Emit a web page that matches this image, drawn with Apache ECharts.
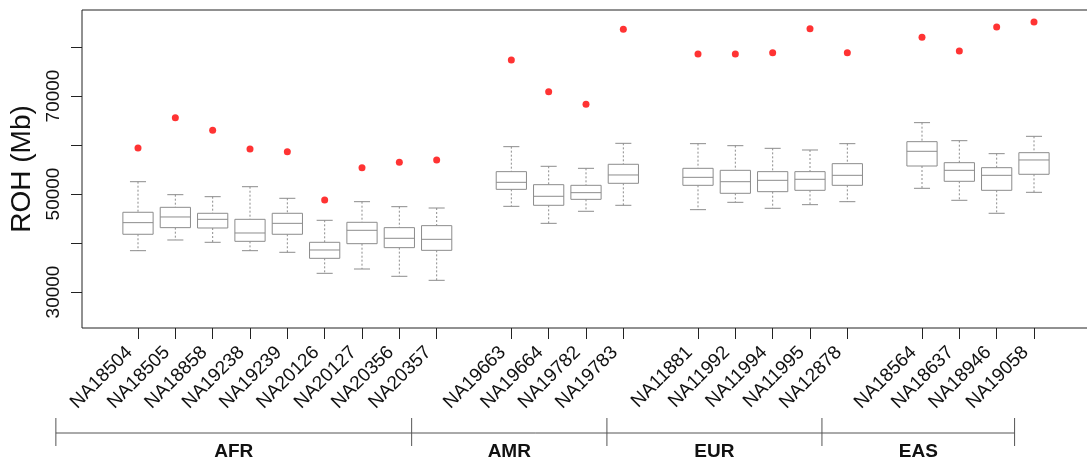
<!DOCTYPE html>
<html>
<head>
<meta charset="utf-8">
<script src="https://cdn.jsdelivr.net/npm/echarts@6/dist/echarts.min.js"></script>
<style>
  html, body { margin: 0; padding: 0; background: #fff; }
  #chart { width: 1087px; height: 457px; }
</style>
</head>
<body>
<div id="chart"></div>
<script>
// 人群分组和样本
var groups = ['AFR', 'AMR', 'EUR', 'EAS'];
var groupSamples = [
  ['NA18504', 'NA18505', 'NA18858', 'NA19238', 'NA19239', 'NA20126', 'NA20127', 'NA20356', 'NA20357'],
  ['NA19663', 'NA19664', 'NA19782', 'NA19783'],
  ['NA11881', 'NA11992', 'NA11994', 'NA11995', 'NA12878'],
  ['NA18564', 'NA18637', 'NA18946', 'NA19058']
];
// 箱线图五个统计量（按样本顺序）
var whiskerLow  = [38430, 40610, 40140, 38430, 38100, 33810, 34690, 33200, 32380,
                   47480, 44010, 46470, 47690,
                   46800, 48300, 47080, 47820, 48430,
                   51160, 48710, 46060, 50340];
var q1          = [41780, 43130, 43060, 40340, 41780, 36870, 39860, 39050, 38500,
                   50950, 47690, 48910, 52180,
                   51770, 50140, 50470, 50750, 51770,
                   55710, 52590, 50750, 54020];
var median      = [44150, 45310, 44830, 42040, 44010, 38570, 42590, 40960, 40750,
                   52380, 49530, 50270, 53880,
                   53400, 52510, 52790, 53000, 53810,
                   58710, 54830, 53810, 56940];
var q3          = [46270, 47280, 46060, 44830, 46060, 40140, 44220, 43130, 43540,
                   54560, 51900, 51770, 56060,
                   55240, 54830, 54560, 54560, 56190,
                   60680, 56390, 55370, 58430];
var whiskerHigh = [52510, 49860, 49450, 51490, 49120, 44630, 48430, 47410, 47140,
                   59660, 55650, 55240, 60340,
                   60270, 59860, 59320, 58980, 60270,
                   64560, 60880, 58230, 61770];
// 红点：实际样本的ROH
var observed    = [59390, 65580, 62990, 59180, 58640, 48780, 55370, 56470, 56940,
                   77350, 70880, 68300, 83610,
                   78570, 78570, 78840, 83740, 78840,
                   81970, 79180, 84080, 85100];
var yTicks = [30000, 40000, 50000, 60000, 70000, 80000];
var yLabels = [30000, 50000, 70000];
// 分组括号的边界（以样本位置为单位）
var bracketEdges = [-1.2, 8.33, 13.56, 19.32, 24.48];

var slots = [''];
var boxData = [];
var dotData = [];
var k = 0;
groupSamples.forEach(function (names) {
  names.forEach(function (n) {
    slots.push(n);
    var s = slots.length - 1;
    boxData.push([s, whiskerLow[k], q1[k], median[k], q3[k], whiskerHigh[k]]);
    dotData.push([s, observed[k]]);
    k++;
  });
  slots.push('');
});

var boxColor = '#8c8c8c';
var font = 'Liberation Sans, Arial, sans-serif';

function renderBox(params, api) {
  var x = api.value(0);
  var pLow = api.coord([x, api.value(1)]);
  var pQ1 = api.coord([x, api.value(2)]);
  var pMed = api.coord([x, api.value(3)]);
  var pQ3 = api.coord([x, api.value(4)]);
  var pHigh = api.coord([x, api.value(5)]);
  var step = api.size([1, 0])[0];
  var hw = step * 0.405;
  var cw = step * 0.215;
  var cx = pMed[0];
  var solid = { stroke: boxColor, lineWidth: 1, fill: null };
  var dashed = { stroke: boxColor, lineWidth: 1, lineDash: [2, 2], fill: null };
  return {
    type: 'group',
    children: [
      { type: 'line', shape: { x1: cx, y1: pHigh[1], x2: cx, y2: pQ3[1] }, style: dashed },
      { type: 'line', shape: { x1: cx, y1: pQ1[1], x2: cx, y2: pLow[1] }, style: dashed },
      { type: 'line', shape: { x1: cx - cw, y1: pHigh[1], x2: cx + cw, y2: pHigh[1] }, style: solid },
      { type: 'line', shape: { x1: cx - cw, y1: pLow[1], x2: cx + cw, y2: pLow[1] }, style: solid },
      { type: 'rect', shape: { x: cx - hw, y: pQ3[1], width: hw * 2, height: pQ1[1] - pQ3[1] },
        style: { stroke: boxColor, lineWidth: 1, fill: '#fff' } },
      { type: 'line', shape: { x1: cx - hw, y1: pMed[1], x2: cx + hw, y2: pMed[1] }, style: solid }
    ]
  };
}

var myChart = echarts.init(document.getElementById('chart'));
myChart.setOption({
  animation: false,
  grid: {
    left: 82, top: 10, bottom: 129, width: 1008,
    outerBoundsMode: 'none',
    show: true, borderColor: '#222', borderWidth: 1, backgroundColor: 'transparent'
  },
  xAxis: {
    type: 'category',
    data: slots,
    boundaryGap: true,
    axisLine: { show: false },
    axisTick: {
      show: true, alignWithLabel: true, length: 11, inside: false,
      interval: function (i, v) { return v !== ''; },
      lineStyle: { color: '#222' }
    },
    axisLabel: {
      interval: function (i, v) { return v !== ''; },
      rotate: 45, margin: 13, padding: [0, 12, 0, 0],
      fontSize: 19, fontFamily: font, color: '#111'
    },
    splitLine: { show: false }
  },
  yAxis: {
    type: 'value',
    min: 22650,
    max: 87550,
    name: 'ROH (Mb)',
    nameLocation: 'middle',
    nameGap: 46,
    nameRotate: 90,
    nameTextStyle: { fontSize: 28, fontFamily: font, color: '#111' },
    axisLine: { show: false },
    axisTick: { show: true, length: 11, customValues: yTicks, lineStyle: { color: '#222' } },
    axisLabel: {
      customValues: yLabels, rotate: 90, margin: 19, fontSize: 19, fontFamily: font, color: '#111',
      formatter: function (v) { return String(v); }
    },
    splitLine: { show: false }
  },
  series: [
    {
      type: 'custom',
      renderItem: renderBox,
      encode: { x: 0, y: [1, 2, 3, 4, 5] },
      data: boxData,
      silent: true
    },
    {
      type: 'scatter',
      data: dotData,
      symbol: 'circle',
      symbolSize: 7,
      itemStyle: { color: '#ff0000' },
      silent: true
    }
  ]
});

// 底部分组括号
var x0 = myChart.convertToPixel({ xAxisIndex: 0 }, 0);
var step = myChart.convertToPixel({ xAxisIndex: 0 }, 1) - x0;
var lineY = 433;
var bracketColor = '#555';
var elements = [];
var edgePx = bracketEdges.map(function (s) { return x0 + s * step; });
elements.push({
  type: 'line',
  shape: { x1: edgePx[0], y1: lineY, x2: edgePx[edgePx.length - 1], y2: lineY },
  style: { stroke: bracketColor, lineWidth: 1 }
});
edgePx.forEach(function (px) {
  elements.push({
    type: 'line',
    shape: { x1: px, y1: 418, x2: px, y2: 446 },
    style: { stroke: bracketColor, lineWidth: 1 }
  });
});
groups.forEach(function (g, i) {
  elements.push({
    type: 'text',
    x: (edgePx[i] + edgePx[i + 1]) / 2,
    y: 442,
    style: {
      text: g, fontSize: 19, fontWeight: 'bold', fontFamily: font,
      fill: '#111', align: 'center', verticalAlign: 'top'
    }
  });
});
myChart.setOption({ graphic: elements });
</script>
</body>
</html>
